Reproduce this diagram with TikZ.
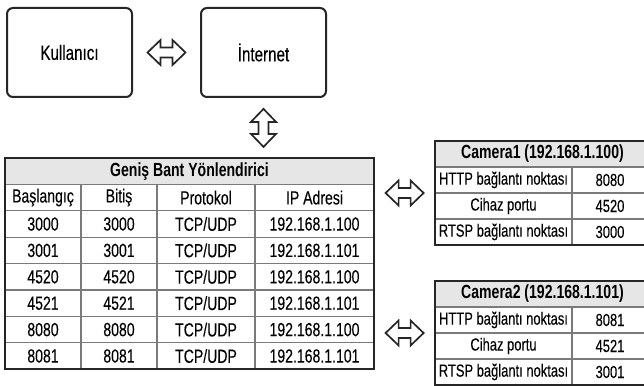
\documentclass[tikz,border=0pt]{standalone}
\usepackage{fontspec}
\setmainfont{Liberation Sans}[FakeStretch=0.74,UprightFeatures={FakeBold=0.15}]
\usetikzlibrary{positioning,calc}
\definecolor{rulegray}{HTML}{7A7A7A}
\definecolor{rimdark}{HTML}{262626}
\definecolor{headfill}{HTML}{E6E6E6}

\begin{document}
\begin{tikzpicture}[x=1pt,y=-1pt,
    box/.style={draw=rimdark,line width=2pt,rounded corners=6pt,minimum width=125pt,minimum height=89pt,font=\fontsize{20.5}{22}\selectfont},
    cell/.style={inner sep=0pt,font=\fontsize{19}{21}\selectfont},
    camcell/.style={inner sep=0pt,font=\fontsize{17.5}{20}\selectfont},
    titlecell/.style={fill=headfill,inner sep=0pt,minimum height=26.4pt,font=\fontsize{19}{21}\selectfont\bfseries},
    grid/.style={draw=rulegray,line width=1.3pt},
    rim/.style={draw=rimdark,line width=2pt},
    twoway/.pic={\draw[rimdark,line width=1.7pt,line join=miter]
      (-19,0) -- (-6,12.5) -- (-6,5) -- (6,5) -- (6,12.5) -- (19,0)
      -- (6,-12.5) -- (6,-5) -- (-6,-5) -- (-6,-12.5) -- cycle;}]
  \useasboundingbox (0,0) rectangle (644,385);
  \clip (0,0) rectangle (644,385);
  \fill[white] (0,0) rectangle (644,385);

  % user and internet
  \node[box] (user) at (69.5,52.5) {Kullanıcı};
  \node[box,right=67pt of user] (inet) {İnternet};

  % router table
  \node[titlecell,minimum width=369pt] (router) at (189.5,171.2) {Geniş Bant Yönlendirici};
  \foreach \k in {1,...,7}
    \draw[grid] (5,{158+26.4*\k}) -- (374,{158+26.4*\k});
  \foreach \x in {81,157,255}
    \draw[grid] (\x,184.4) -- (\x,369.2);
  \draw[rim] (5,158) rectangle (374,369.2);
  \foreach \x/\t [count=\c] in {43/Başlangıç,119/Bitiş,206/Protokol,314.5/IP Adresi}
    \node[cell] (h\c) at (\x,197.6) {\t};
  \foreach \p/\ip [count=\r] in {3000/192.168.1.100,3001/192.168.1.101,4520/192.168.1.100,
      4521/192.168.1.101,8080/192.168.1.100,8081/192.168.1.101}
    \path (43,{197.6+26.4*\r}) node[cell] (s\r) {\p}
          (119,{197.6+26.4*\r}) node[cell] (e\r) {\p}
          (206,{197.6+26.4*\r}) node[cell] (pr\r) {TCP/UDP}
          (314.5,{197.6+26.4*\r}) node[cell] (ip\r) {\ip};

  % camera tables
  \foreach \n/\top/\ip/\http/\dev/\rtsp in {1/141/192.168.1.100/8080/4520/3000,
      2/281/192.168.1.101/8081/4521/3001} {
    \node[titlecell,minimum width=215pt,minimum height=26pt] (cam\n) at (542.5,{\top+13}) {Camera\n{} (\ip)};
    \foreach \k in {1,2,3}
      \draw[grid] (435,{\top+26*\k}) -- (650,{\top+26*\k});
    \draw[grid] (572,{\top+26}) -- (572,{\top+104});
    \draw[rim] (435,\top) rectangle (650,{\top+104});
    \node[camcell] (http\n) at (503.5,{\top+39}) {HTTP bağlantı noktası};
    \node[camcell] (dev\n) at (503.5,{\top+65}) {Cihaz portu};
    \node[camcell] (rtsp\n) at (503.5,{\top+91}) {RTSP bağlantı noktası};
    \node[camcell] (httpv\n) at (610,{\top+39}) {\http};
    \node[camcell] (devv\n) at (610,{\top+65}) {\dev};
    \node[camcell] (rtspv\n) at (610,{\top+91}) {\rtsp};
    \coordinate (cam\n w) at (435,{\top+52});
  }

  % two-way arrows
  \pic at ($(user.east)!.5!(inet.west)$) {twoway};
  \pic[rotate=90] at ($(inet.south)!.5!(inet.south |- router.north)$) {twoway};
  \pic at ($(router.east |- cam1w)!.5!(cam1w)$) {twoway};
  \pic at ($(router.east |- cam2w)!.5!(cam2w)$) {twoway};
\end{tikzpicture}
\end{document}
